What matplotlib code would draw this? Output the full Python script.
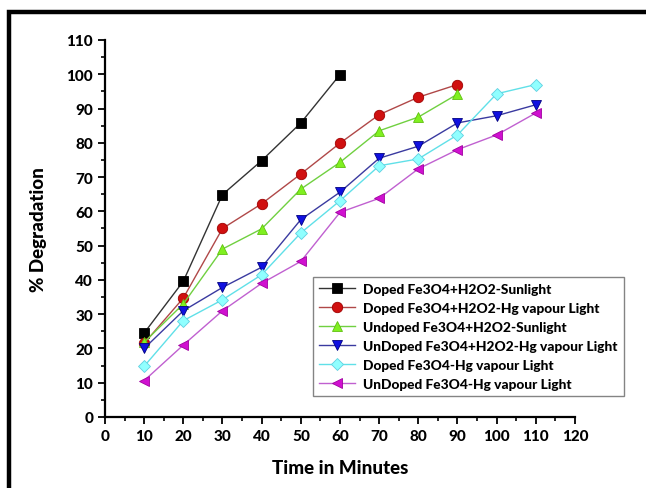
import matplotlib
matplotlib.use("Agg")
import matplotlib.pyplot as plt
from matplotlib.patches import Rectangle
from matplotlib.ticker import MultipleLocator

plt.rcParams['font.family'] = ['Lato', 'DejaVu Sans']

# Tiempo (min) y % de degradación de cada serie
t_doped_sun = [10, 20, 30, 40, 50, 60]
doped_sun = [24.5, 39.6, 64.9, 74.8, 85.8, 99.9]

t_90 = [10, 20, 30, 40, 50, 60, 70, 80, 90]
doped_hg = [21.5, 34.7, 55.0, 62.2, 70.9, 79.9, 88.2, 93.3, 97.0]
undoped_sun = [21.8, 33.0, 49.0, 54.9, 66.5, 74.3, 83.5, 87.5, 94.2]

t_110 = [10, 20, 30, 40, 50, 60, 70, 80, 90, 100, 110]
undoped_hg = [20.0, 31.0, 37.8, 43.7, 57.6, 65.6, 75.5, 79.0, 85.8, 87.9, 91.1]
doped_fe_hg = [14.8, 28.1, 34.2, 41.5, 53.7, 63.1, 73.3, 75.3, 82.3, 94.3, 97.0]
undoped_fe_hg = [10.6, 21.0, 31.0, 39.0, 45.4, 59.7, 63.8, 72.4, 78.0, 82.3, 88.7]

series = [
    (t_doped_sun, doped_sun, "Doped Fe3O4+H2O2-Sunlight", "s", "#000000", "#333333", "#000000"),
    (t_90, doped_hg, "Doped Fe3O4+H2O2-Hg vapour Light", "o", "#d01010", "#b04848", "#a00000"),
    (t_90, undoped_sun, "Undoped Fe3O4+H2O2-Sunlight", "^", "#80f020", "#70d040", "#60c010"),
    (t_110, undoped_hg, "UnDoped Fe3O4+H2O2-Hg vapour Light", "v", "#1010e0", "#3a3aa0", "#000080"),
    (t_110, doped_fe_hg, "Doped Fe3O4-Hg vapour Light", "D", "#90ffff", "#60e0e8", "#60d0e0"),
    (t_110, undoped_fe_hg, "UnDoped Fe3O4-Hg vapour Light", "<", "#d010d0", "#c060d0", "#a000a0"),
]

fig = plt.figure(figsize=(6.46, 4.89), dpi=100)
ax = fig.add_axes([0.1625, 0.1452, 0.7276, 0.771])

for x, y, lab, mk, fc, lc, ec in series:
    ms = 7.5 if mk != "D" else 6.5
    ax.plot(x, y, color=lc, lw=1.0, marker=mk, markersize=ms,
            markerfacecolor=fc, markeredgecolor=ec, markeredgewidth=0.6, label=lab)

ax.set_xlim(0, 120)
ax.set_ylim(0, 110)
ax.xaxis.set_major_locator(MultipleLocator(10))
ax.xaxis.set_minor_locator(MultipleLocator(5))
ax.yaxis.set_major_locator(MultipleLocator(10))
ax.yaxis.set_minor_locator(MultipleLocator(5))
ax.spines['top'].set_visible(False)
ax.spines['right'].set_visible(False)
ax.spines['left'].set_linewidth(1.6)
ax.spines['bottom'].set_linewidth(1.6)
ax.tick_params(which='major', direction='out', length=5, width=1.3, labelsize=11)
ax.tick_params(which='minor', direction='out', length=3, width=1.2)
for lbl in ax.get_xticklabels() + ax.get_yticklabels():
    lbl.set_fontweight('black')

ax.set_xlabel("Time in Minutes", fontsize=13.5, fontweight='black', labelpad=12)
ax.set_ylabel("% Degradation", fontsize=13.5, fontweight='black', labelpad=14)

leg = ax.legend(loc='lower left', bbox_to_anchor=(0.428, 0.038), frameon=True, fancybox=False,
                edgecolor='#666666', prop={'weight': 'black', 'size': 9.9}, handlelength=2.6,
                handletextpad=0.6, labelspacing=0.5, borderpad=0.45)
leg.get_frame().set_linewidth(1.0)

# marco negro grueso alrededor de la figura
fig.patches.append(Rectangle((9 / 646, -0.1), 1.2, 1 - 13 / 489 + 0.1, transform=fig.transFigure,
                             fill=False, edgecolor='black', linewidth=3.2))

fig.savefig("out.png", dpi=100)
